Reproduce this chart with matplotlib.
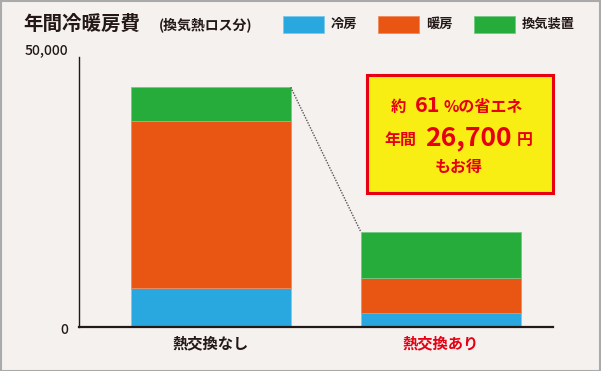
import matplotlib
matplotlib.use('Agg')
import matplotlib.pyplot as plt
from matplotlib.patches import Rectangle

plt.rcParams['font.family'] = ['Noto Sans CJK JP', 'DejaVu Sans']

categories = ['熱交換なし', '熱交換あり']
series_names = ['冷房', '暖房', '換気装置']
cooling = [7350, 2700]
heating = [30900, 6450]
ventilation = [6150, 8550]

bg = '#f4f1ee'
ink = '#231815'
red = '#e60012'
colors = ['#29a8e0', '#e95513', '#25ac3a']
edges = ['#7cc8ea', '#f08a5c', '#76c984']

W, H = 601, 371
fig = plt.figure(figsize=(W / 100, H / 100), dpi=100, facecolor=bg)


def fx(px):
    return px / W


def fy(py):
    return 1 - py / H


ax = fig.add_axes([fx(79), fy(327.3), fx(553) - fx(79), fy(57) - fy(327.3)])
ax.set_facecolor(bg)

x = [0, 1]
width = 0.696
bottom = [0, 0]
for vals, c, e in zip([cooling, heating, ventilation], colors, edges):
    ax.bar(x, vals, width, bottom=bottom, color=c, edgecolor=e, linewidth=0.6)
    bottom = [b + v for b, v in zip(bottom, vals)]

# dotted connector between bar tops
ax.plot([x[0] + width / 2, x[1] - width / 2], [bottom[0], bottom[1]],
        linestyle=(0, (1, 1)), color='#555555', lw=1.0)

ax.set_xlim(-0.5726, 1.488)
ax.set_ylim(0, 50000)
for s in ['top', 'right']:
    ax.spines[s].set_visible(False)
ax.spines['left'].set_color(ink)
ax.spines['bottom'].set_color(ink)
ax.spines['left'].set_linewidth(1.0)
ax.spines['bottom'].set_linewidth(1.6)
ax.set_yticks([])
ax.set_xticks(x)
ax.set_xticklabels(categories, fontsize=11, fontweight='bold')
ax.tick_params(axis='x', length=0, pad=6)
ax.get_xticklabels()[0].set_color(ink)
ax.get_xticklabels()[1].set_color(red)

# y labels
fig.text(fx(68), fy(50), '50,000', ha='right', va='center', fontsize=10, color=ink,
         fontweight='medium')
fig.text(fx(68), fy(330), '0', ha='right', va='center', fontsize=10, color=ink,
         fontweight='medium')

# title
fig.text(fx(23), fy(24), '年間冷暖房費', ha='left', va='center', fontsize=14,
         fontweight='bold', color=ink)
fig.text(fx(159), fy(25), '(換気熱ロス分)', ha='left', va='center', fontsize=10,
         fontweight='bold', color=ink)

# legend
leg_x = [283, 378, 474]
for name, c, e, lx in zip(series_names, colors, edges, leg_x):
    fig.patches.append(Rectangle((fx(lx), fy(32.7)), fx(41), 17 / H, transform=fig.transFigure,
                                 facecolor=c, edgecolor=e, lw=0.6))
    fig.text(fx(lx + 48), fy(24), name, ha='left', va='center', fontsize=9.5,
             color=ink, fontweight='bold')

# callout box
fig.patches.append(Rectangle((fx(366.5), fy(192.5)), fx(186), 118 / H, transform=fig.transFigure,
                             facecolor='#f9ee14', edgecolor=red, lw=2.2))
fig.text(fx(391), fy(107), '約', ha='left', va='center', fontsize=11, color=red, fontweight='bold')
fig.text(fx(415), fy(105), '61', ha='left', va='center', fontsize=15.5, color=red, fontweight='bold')
fig.text(fx(444), fy(107), '%の省エネ', ha='left', va='center', fontsize=11.5, color=red,
         fontweight='bold')
fig.text(fx(384), fy(140), '年間', ha='left', va='center', fontsize=11.5, color=red, fontweight='bold')
fig.text(fx(425), fy(138), '26,700', ha='left', va='center', fontsize=19, color=red,
         fontweight='bold')
fig.text(fx(517), fy(140), '円', ha='left', va='center', fontsize=11.5, color=red, fontweight='bold')
fig.text(fx(459), fy(167), 'もお得', ha='center', va='center', fontsize=11.5, color=red,
         fontweight='bold')

# outer frame
fig.patches.append(Rectangle((0.5 / W, 0.5 / H), 1 - 1.5 / W, 1 - 1.5 / H, transform=fig.transFigure,
                             facecolor='none', edgecolor='#aaaaaa', lw=1.5))

fig.savefig('out.png', dpi=100, facecolor=bg)
